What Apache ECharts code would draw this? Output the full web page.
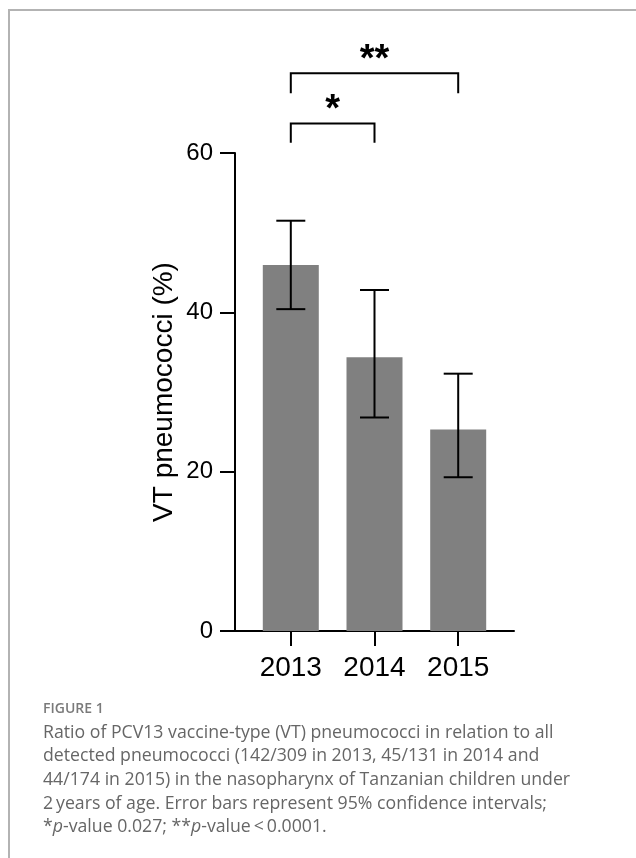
<!DOCTYPE html>
<html>
<head>
<meta charset="utf-8">
<script src="https://cdn.jsdelivr.net/npm/echarts@6/dist/echarts.min.js"></script>
<style>
  html, body { margin: 0; padding: 0; background: #fff; }
  #chart { width: 636px; height: 858px; }
</style>
</head>
<body>
<div id="chart"></div>
<script>
// Survey years and their positions on the x scale
const years = ['2013', '2014', '2015'];
const yearPos = [1, 2, 3];

// Share of vaccine-type pneumococci (%) and 95% confidence limits
const vtPercent = [45.95, 34.35, 25.29];
const ciLower = [40.4, 26.8, 19.3];
const ciUpper = [51.5, 42.8, 32.3];

// Y axis ticks
const yTicks = [0, 20, 40, 60];

// Significance comparisons: start year, end year, bracket top, bracket leg end, marker
const compFrom = [1, 1];
const compTo = [2, 3];
const compTop = [63.7, 70.0];
const compLeg = [61.3, 67.5];
const compMark = ['*', '**'];

// Figure caption
const captionLabel = 'FIGURE 1';
const captionLines = [
  'Ratio of PCV13 vaccine-type (VT) pneumococci in relation to all',
  'detected pneumococci (142/309 in 2013, 45/131 in 2014 and',
  '44/174 in 2015) in the nasopharynx of Tanzanian children under',
  '2\u2009years of age. Error bars represent 95% confidence intervals;',
  '*{i|p}-value 0.027; **{i|p}-value\u2009<\u20090.0001.'
];

const chart = echarts.init(document.getElementById('chart'));
const AX = { color: '#000', width: 2 };
const FONT = 'Liberation Sans, Arial, sans-serif';
const CAP_FONT = '"Open Sans", sans-serif';

chart.setOption({
  animation: false,
  backgroundColor: '#fff',
  grid: { left: 235, top: 153, right: 122, bottom: 227, containLabel: false },
  xAxis: {
    type: 'value',
    min: 1 / 3,
    max: 11 / 3,
    axisLine: { show: true, onZero: false, lineStyle: AX },
    axisTick: { show: true, length: 15, customValues: yearPos, lineStyle: AX },
    axisLabel: {
      customValues: yearPos,
      formatter: v => years[Math.round(v) - 1],
      fontSize: 28, fontFamily: FONT, color: '#000', margin: 23
    },
    splitLine: { show: false }
  },
  yAxis: {
    type: 'value',
    min: yTicks[0],
    max: yTicks[yTicks.length - 1],
    interval: 20,
    axisLine: { show: true, lineStyle: AX },
    axisTick: { show: true, length: 15, lineStyle: AX },
    axisLabel: { fontSize: 24, fontFamily: FONT, color: '#000', margin: 22 },
    splitLine: { show: false },
    name: 'VT pneumococci (%)',
    nameLocation: 'middle',
    nameGap: 57,
    nameTextStyle: { fontSize: 28, fontFamily: FONT, color: '#000' }
  },
  series: [
    {
      type: 'bar',
      data: yearPos.map((p, i) => [p, vtPercent[i]]),
      barWidth: 56,
      itemStyle: { color: '#808080' },
      z: 2
    },
    {
      type: 'custom',
      data: yearPos.map((p, i) => [p, ciLower[i], ciUpper[i]]),
      clip: false,
      z: 5,
      renderItem(params, api) {
        const x = api.value(0);
        const lo = api.coord([x, api.value(1)]);
        const hi = api.coord([x, api.value(2)]);
        const half = 14.5;
        const st = { stroke: '#000', lineWidth: 2 };
        return {
          type: 'group',
          children: [
            { type: 'line', shape: { x1: lo[0], y1: lo[1], x2: hi[0], y2: hi[1] }, style: st },
            { type: 'line', shape: { x1: hi[0] - half, y1: hi[1], x2: hi[0] + half, y2: hi[1] }, style: st },
            { type: 'line', shape: { x1: lo[0] - half, y1: lo[1], x2: lo[0] + half, y2: lo[1] }, style: st }
          ]
        };
      }
    },
    {
      type: 'custom',
      data: compFrom.map((f, i) => [f, compTo[i], compTop[i], compLeg[i], i]),
      clip: false,
      z: 5,
      renderItem(params, api) {
        const a = api.coord([api.value(0), api.value(2)]);
        const b = api.coord([api.value(1), api.value(2)]);
        const legEnd = api.coord([api.value(0), api.value(3)])[1];
        const st = { stroke: '#000', lineWidth: 2, fill: 'none' };
        return {
          type: 'group',
          children: [
            {
              type: 'polyline',
              shape: { points: [[a[0], legEnd], [a[0], a[1]], [b[0], b[1]], [b[0], legEnd]] },
              style: st
            },
            {
              type: 'text',
              x: (a[0] + b[0]) / 2,
              y: a[1] - 13,
              style: {
                text: compMark[api.value(4)],
                font: 'bold 38px ' + FONT,
                fill: '#000',
                align: 'center',
                verticalAlign: 'middle'
              }
            }
          ]
        };
      }
    }
  ],
  graphic: [
    {
      type: 'rect',
      silent: true,
      shape: { x: 9, y: 10, width: 700, height: 900 },
      style: { fill: 'none', stroke: '#b3b3b3', lineWidth: 2 }
    },
    {
      type: 'text',
      x: 43, y: 702,
      style: { text: captionLabel, font: '600 14px ' + CAP_FONT, fill: '#7a7a7a' }
    },
    {
      type: 'text',
      x: 43, y: 721,
      style: {
        text: captionLines.join('\n'),
        font: '17.7px ' + CAP_FONT,
        fill: '#666666',
        lineHeight: 23.6,
        rich: {
          i: { fontStyle: 'italic', fontSize: 17.7, fontFamily: CAP_FONT, fill: '#666666', lineHeight: 23.6 }
        }
      }
    }
  ]
});
</script>
</body>
</html>
